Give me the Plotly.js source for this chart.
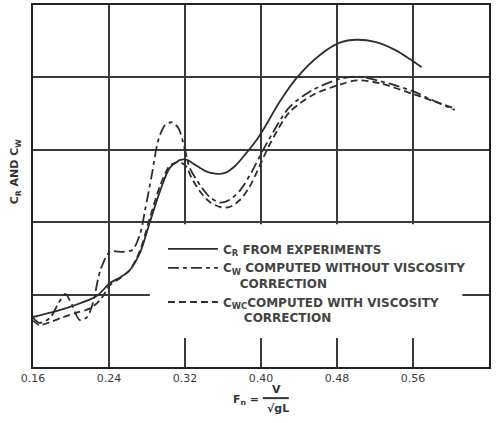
<!DOCTYPE html>
<html><head><meta charset="utf-8">
<script src="https://cdn.plot.ly/plotly-3.0.1.min.js"></script>
<style>html,body{margin:0;padding:0;background:#fff}</style>
</head><body><div id="chart" style="width:500px;height:423px"></div>
<script>
// Froude number grid (x) and values of each series (arbitrary units, y axis 0..5)
const crFn  = [0.160,0.178,0.199,0.227,0.241,0.252,0.262,0.273,0.283,0.294,0.304,0.315,0.322,0.331,0.341,0.352,0.362,0.373,0.383,0.394,0.402,0.420,0.438,0.462,0.483,0.501,0.520,0.541,0.557,0.569];
const crVal = [0.69,0.75,0.83,0.98,1.16,1.24,1.34,1.59,2.00,2.44,2.75,2.86,2.86,2.79,2.71,2.67,2.68,2.78,2.93,3.11,3.27,3.67,4.00,4.31,4.48,4.52,4.49,4.38,4.25,4.14];

const cwFn  = [0.160,0.167,0.178,0.186,0.194,0.201,0.209,0.217,0.223,0.231,0.241,0.255,0.265,0.273,0.278,0.285,0.292,0.299,0.306,0.313,0.320,0.325,0.336,0.346,0.357,0.367,0.378,0.390,0.404,0.430,0.455,0.483,0.501,0.525,0.560,0.578,0.604];
const cwVal = [0.68,0.61,0.68,0.86,1.01,0.86,0.65,0.69,0.88,1.34,1.59,1.59,1.62,1.85,2.17,2.65,3.14,3.34,3.38,3.30,3.00,2.75,2.51,2.35,2.27,2.31,2.44,2.69,3.04,3.59,3.83,3.98,4.01,3.95,3.81,3.70,3.55];

const cwcFn  = [0.160,0.167,0.178,0.192,0.206,0.220,0.231,0.241,0.252,0.262,0.273,0.283,0.294,0.304,0.313,0.320,0.327,0.336,0.346,0.357,0.367,0.378,0.388,0.399,0.409,0.430,0.455,0.483,0.501,0.525,0.560,0.602];
const cwcVal = [0.64,0.58,0.62,0.69,0.75,0.81,0.93,1.13,1.23,1.34,1.62,2.06,2.51,2.78,2.83,2.79,2.61,2.42,2.28,2.21,2.21,2.31,2.49,2.79,3.07,3.52,3.76,3.90,3.96,3.92,3.77,3.58];

const xTickVals = [0.16,0.24,0.32,0.40,0.48,0.56,0.64];
const xTickText = ['0.16','0.24','0.32','0.40','0.48','0.56','0.64'];

const names = [
  'C<sub>R</sub> FROM EXPERIMENTS',
  'C<sub>W</sub> COMPUTED WITHOUT VISCOSITY<br>\u00A0\u00A0\u00A0\u00A0CORRECTION',
  'C<sub>WC</sub>COMPUTED WITH VISCOSITY<br>\u00A0\u00A0\u00A0\u00A0\u00A0CORRECTION'
];

const ink = '#2e2e2e';
const traces = [
  {x: crFn, y: crVal, name: names[0], mode: 'lines', line: {color: ink, width: 1.8, shape: 'spline', smoothing: 0.8}},
  {x: cwFn, y: cwVal, name: names[1], mode: 'lines', line: {color: ink, width: 1.8, dash: '11px,4px,4px,4px', shape: 'spline', smoothing: 0.8}},
  {x: cwcFn, y: cwcVal, name: names[2], mode: 'lines', line: {color: ink, width: 1.8, dash: '7px,4px', shape: 'spline', smoothing: 0.8}}
];

const txt = {family: 'DejaVu Sans', size: 11, color: '#333'};
const layout = {
  width: 500, height: 423,
  margin: {l: 33, r: 11, t: 5, b: 56},
  paper_bgcolor: '#fff', plot_bgcolor: '#fff',
  font: {family: 'DejaVu Sans', color: '#333'},
  xaxis: {
    range: [0.16, 0.64], tickvals: xTickVals, ticktext: xTickText,
    showgrid: true, gridcolor: '#3a3a3a', gridwidth: 2,
    showline: true, mirror: true, linecolor: '#222', linewidth: 2,
    zeroline: false, ticks: '', tickfont: {family: 'DejaVu Sans', size: 11, color: '#3a3a3a'}
  },
  yaxis: {
    range: [0, 5], dtick: 1, showticklabels: false,
    showgrid: true, gridcolor: '#3a3a3a', gridwidth: 2,
    showline: true, mirror: true, linecolor: '#222', linewidth: 2,
    zeroline: false, ticks: ''
  },
  showlegend: true,
  legend: {
    x: 0.285, y: 0.366, xanchor: 'left', yanchor: 'top',
    bgcolor: 'rgba(0,0,0,0)', borderwidth: 0,
    itemwidth: 50, valign: 'top',
    font: {family: 'DejaVu Sans', size: 12, color: '#444', weight: 'bold'}
  },
  shapes: [
    {type: 'rect', xref: 'x', yref: 'y', x0: 0.283, x1: 0.612, y0: 0.40, y1: 1.97,
     fillcolor: '#fff', line: {width: 0}, layer: 'between'},
    {type: 'line', xref: 'paper', yref: 'paper', x0: 0.504, x1: 0.561, y0: -0.086, y1: -0.086,
     line: {color: '#333', width: 2}}
  ],
  annotations: [
    {text: '<b>C<sub>R</sub> AND C<sub>W</sub></b>', xref: 'paper', yref: 'paper', x: -0.04, y: 0.54,
     xanchor: 'center', yanchor: 'middle', textangle: -90, showarrow: false, font: txt},
    {text: '<b>F<sub>n</sub> =</b>', xref: 'paper', yref: 'paper', x: 0.467, y: -0.09,
     xanchor: 'center', yanchor: 'middle', showarrow: false, font: txt},
    {text: '<b>V</b>', xref: 'paper', yref: 'paper', x: 0.535, y: -0.062,
     xanchor: 'center', yanchor: 'middle', showarrow: false, font: txt},
    {text: '<b>\u221AgL</b>', xref: 'paper', yref: 'paper', x: 0.537, y: -0.116,
     xanchor: 'center', yanchor: 'middle', showarrow: false, font: txt}
  ]
};

Plotly.newPlot('chart', traces, layout, {staticPlot: true});
</script></body></html>
